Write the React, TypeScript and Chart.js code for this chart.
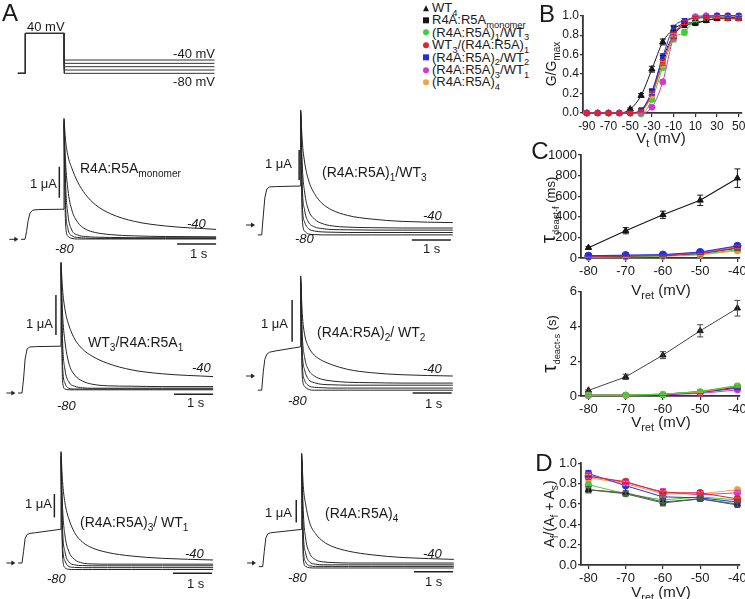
import React, { useEffect, useRef } from 'react';
import { Chart, registerables } from 'chart.js';
Chart.register(...registerables);

const FONT = '"Liberation Sans", Arial, Helvetica, sans-serif';
const INK = '#1a1a1a';

// ---------- Panel A: voltage protocol ----------
const PROTO_T = [-0.19, 0, 0, 1, 1, 4.85];
const HOLD_MV = -80;
const STEP_MV = 40;
const RET_MV = [-40, -50, -60, -70, -80];

// ---------- Panel A: current traces (uA), tails at -40..-80 mV ----------
const ACT_T = [-0.1, 0, 0.04, 0.08, 0.13, 0.2, 0.35, 1.0];
const TAIL_T = [0, 0.04, 0.1, 0.2, 0.35, 0.55, 0.8, 1.2, 1.8, 2.6, 3.9];

const monoAct = [0, 0, 0.25, 0.6, 0.85, 0.94, 0.96, 0.97];
const monoTails = [
  [3.9, 3.2, 2.7, 2.3, 1.85, 1.45, 1.12, 0.82, 0.58, 0.43, 0.32],
  [3.85, 2.5, 1.6, 0.95, 0.55, 0.33, 0.22, 0.15, 0.11, 0.09, 0.08],
  [3.8, 1.8, 0.8, 0.3, 0.14, 0.09, 0.07, 0.06, 0.05, 0.05, 0.05],
  [3.75, 1.1, 0.35, 0.12, 0.06, 0.04, 0.03, 0.03, 0.03, 0.03, 0.03],
  [3.7, 0.5, 0.1, 0.03, 0.01, 0.01, 0.01, 0.01, 0.01, 0.01, 0.01],
];

const m1w3Act = [-0.33, -0.33, 0.3, 0.9, 1.2, 1.27, 1.28, 1.3];
const m1w3Tails = [
  [3.83, 2.8, 2.1, 1.5, 1.05, 0.72, 0.5, 0.32, 0.2, 0.12, 0.08],
  [3.8, 2.0, 1.1, 0.5, 0.2, 0.05, -0.03, -0.07, -0.09, -0.1, -0.1],
  [3.75, 1.3, 0.5, 0.1, -0.06, -0.12, -0.15, -0.16, -0.17, -0.17, -0.17],
  [3.7, 0.7, 0.1, -0.12, -0.2, -0.23, -0.24, -0.25, -0.25, -0.25, -0.25],
  [3.65, 0.2, -0.2, -0.3, -0.32, -0.33, -0.33, -0.33, -0.33, -0.33, -0.33],
];

const w3m1Act = [0, 0, 0.35, 0.85, 1.1, 1.15, 1.16, 1.17];
const w3m1Tails = [
  [3.27, 2.6, 2.1, 1.7, 1.35, 1.1, 0.92, 0.74, 0.58, 0.48, 0.41],
  [3.25, 2.0, 1.3, 0.75, 0.45, 0.3, 0.22, 0.18, 0.17, 0.16, 0.16],
  [3.2, 1.3, 0.6, 0.28, 0.17, 0.13, 0.12, 0.12, 0.12, 0.12, 0.12],
  [3.15, 0.7, 0.25, 0.12, 0.1, 0.1, 0.1, 0.1, 0.1, 0.1, 0.1],
  [3.1, 0.3, 0.1, 0.08, 0.08, 0.08, 0.08, 0.08, 0.08, 0.08, 0.08],
];

const m2w2Act = [-0.34, -0.34, 0.1, 0.4, 0.52, 0.57, 0.6, 0.7];
const m2w2Tails = [
  [2.4, 1.5, 1.0, 0.7, 0.5, 0.37, 0.27, 0.16, 0.08, 0.03, 0.0],
  [2.35, 1.0, 0.45, 0.15, 0.0, -0.08, -0.12, -0.15, -0.16, -0.17, -0.17],
  [2.3, 0.6, 0.15, -0.08, -0.16, -0.2, -0.21, -0.22, -0.22, -0.22, -0.22],
  [2.25, 0.3, -0.1, -0.23, -0.27, -0.28, -0.29, -0.29, -0.29, -0.29, -0.29],
  [2.2, 0.0, -0.25, -0.32, -0.34, -0.34, -0.34, -0.34, -0.34, -0.34, -0.34],
];

const m3w1Act = [0, 0, 0.5, 1.05, 1.22, 1.27, 1.3, 1.45];
const m3w1Tails = [
  [4.78, 3.5, 2.6, 1.9, 1.3, 0.9, 0.65, 0.45, 0.3, 0.2, 0.13],
  [4.7, 2.4, 1.2, 0.5, 0.15, 0.0, -0.04, -0.05, -0.05, -0.05, -0.05],
  [4.6, 1.5, 0.5, 0.05, -0.08, -0.11, -0.12, -0.12, -0.12, -0.12, -0.12],
  [4.5, 0.8, 0.1, -0.15, -0.19, -0.2, -0.2, -0.2, -0.2, -0.2, -0.2],
  [4.4, 0.3, -0.2, -0.27, -0.28, -0.28, -0.28, -0.28, -0.28, -0.28, -0.28],
];

const m4Act = [-0.16, -0.16, 0.5, 1.1, 1.28, 1.33, 1.36, 1.48];
const m4Tails = [
  [4.83, 3.4, 2.6, 1.8, 1.3, 0.95, 0.72, 0.52, 0.36, 0.24, 0.16],
  [4.75, 2.3, 1.1, 0.45, 0.15, 0.05, 0.02, 0.0, 0.0, 0.0, 0.0],
  [4.65, 1.4, 0.45, 0.05, -0.05, -0.08, -0.08, -0.08, -0.08, -0.08, -0.08],
  [4.55, 0.7, 0.05, -0.12, -0.15, -0.15, -0.15, -0.15, -0.15, -0.15, -0.15],
  [4.45, 0.2, -0.15, -0.21, -0.22, -0.22, -0.22, -0.22, -0.22, -0.22, -0.22],
];

// ---------- Panel B: G/Gmax vs Vt ----------
const V_T = [-90, -80, -70, -60, -50, -40, -30, -20, -10, 0, 10, 20, 30, 40, 50];
const V_T_TICKS = [-90, -70, -50, -30, -10, 10, 30, 50];
const G_TICKS = [0, 0.2, 0.4, 0.6, 0.8, 1.0];
const gWT4 = [0, 0, 0, 0, 0.04, 0.18, 0.45, 0.73, 0.86, 0.92, 0.93, 0.95, 0.97, 0.97, 0.97];
const gWT4Err = [0, 0, 0, 0, 0.01, 0.02, 0.03, 0.03, 0.03, 0.02, 0.02, 0.02, 0.01, 0.01, 0.01];
const gMono = [0, 0, 0, 0, 0, 0.03, 0.22, 0.56, 0.8, 0.9, 0.92, 0.95, 0.97, 0.98, 0.98];
const gMonoErr = [0, 0, 0, 0, 0, 0.01, 0.02, 0.03, 0.03, 0.02, 0.02, 0.02, 0.01, 0.01, 0.01];
const gM1W3 = [0, 0, 0, 0, 0, -0.01, 0.14, 0.47, 0.76, 0.83, 0.96, 0.98, 0.99, 0.99, 0.99];
const gM1W3Err = [0, 0, 0, 0, 0, 0.01, 0.02, 0.03, 0.03, 0.03, 0.02, 0.01, 0.01, 0.01, 0.01];
const gW3M1 = [0, 0, 0, 0, 0, 0.02, 0.2, 0.52, 0.8, 0.93, 0.98, 0.98, 0.98, 0.97, 0.97];
const gW3M1Err = [0, 0, 0, 0, 0, 0.01, 0.02, 0.03, 0.03, 0.02, 0.01, 0.01, 0.01, 0.01, 0.01];
const gM2W2 = [0, 0, 0, 0, 0, 0.03, 0.22, 0.58, 0.88, 0.95, 0.98, 0.99, 1.0, 1.0, 1.0];
const gM2W2Err = [0, 0, 0, 0, 0, 0.01, 0.03, 0.03, 0.02, 0.02, 0.01, 0.01, 0.01, 0.01, 0.01];
const gM3W1 = [0, 0, 0, 0, 0, 0, 0.06, 0.32, 0.78, 0.93, 0.99, 1.0, 1.0, 1.0, 1.0];
const gM3W1Err = [0, 0, 0, 0, 0, 0.01, 0.01, 0.02, 0.03, 0.02, 0.01, 0.01, 0.01, 0.01, 0.01];
const gM4 = [0, 0, 0, 0, 0, 0.02, 0.18, 0.5, 0.8, 0.93, 0.98, 0.99, 1.0, 1.0, 0.99];
const gM4Err = [0, 0, 0, 0, 0, 0.01, 0.02, 0.03, 0.02, 0.02, 0.01, 0.01, 0.01, 0.01, 0.01];

// ---------- Panel C: deactivation time constants ----------
const V_RET = [-80, -70, -60, -50, -40];
const TAUF_TICKS = [0, 200, 400, 600, 800, 1000];
const TAUS_TICKS = [0, 2, 4, 6];
const fWT4 = [100, 265, 420, 560, 775];
const fWT4Err = [10, 30, 35, 50, 90];
const fMono = [15, 20, 25, 45, 95];
const fM1W3 = [10, 15, 20, 35, 80];
const fW3M1 = [15, 20, 25, 45, 100];
const fM2W2 = [22, 28, 33, 58, 118];
const fM3W1 = [20, 25, 30, 52, 112];
const fM4 = [8, 10, 15, 30, 70];
const fSmallErr = [3, 3, 5, 8, 15];
const sWT4 = [0.32, 1.1, 2.35, 3.75, 5.05];
const sWT4Err = [0.05, 0.15, 0.2, 0.35, 0.45];
const sMono = [0.05, 0.06, 0.1, 0.25, 0.5];
const sM1W3 = [0.05, 0.06, 0.1, 0.27, 0.6];
const sW3M1 = [0.04, 0.05, 0.1, 0.22, 0.55];
const sM2W2 = [0.03, 0.04, 0.08, 0.2, 0.45];
const sM3W1 = [0.03, 0.04, 0.07, 0.15, 0.35];
const sM4 = [0.04, 0.05, 0.1, 0.24, 0.58];
const sSmallErr = [0.01, 0.01, 0.02, 0.03, 0.06];

// ---------- Panel D: Af/(Af+As) ----------
const AF_TICKS = [0, 0.2, 0.4, 0.6, 0.8, 1.0];
const aWT4 = [0.74, 0.71, 0.62, 0.65, 0.6];
const aMono = [0.74, 0.7, 0.61, 0.65, 0.59];
const aM1W3 = [0.79, 0.7, 0.64, 0.67, 0.64];
const aW3M1 = [0.87, 0.82, 0.71, 0.71, 0.65];
const aM2W2 = [0.9, 0.78, 0.67, 0.66, 0.62];
const aM3W1 = [0.88, 0.81, 0.72, 0.69, 0.71];
const aM4 = [0.86, 0.8, 0.7, 0.7, 0.74];
const aErr = [0.03, 0.02, 0.03, 0.02, 0.02];

// ---------- styles ----------
const C_BLACK = '#161616';
const C_GREEN = '#3fcf3a';
const C_RED = '#e3232b';
const C_BLUE = '#2531d8';
const C_MAG = '#d03ad0';
const C_ORANGE = '#f3a246';

const BASE: any = {
  animation: false,
  responsive: false,
  events: [],
  plugins: { legend: { display: false }, tooltip: { enabled: false } },
};

type Box = { l: number; t: number; w: number; h: number };

function CanvasChart({ box, make }: { box: Box; make: () => any }) {
  const ref = useRef<HTMLCanvasElement>(null);
  useEffect(() => {
    const c = new Chart(ref.current as HTMLCanvasElement, make());
    return () => c.destroy();
  }, []);
  return (
    <canvas
      ref={ref}
      width={box.w}
      height={box.h}
      style={{ position: 'absolute', left: box.l, top: box.t, width: box.w, height: box.h }}
    />
  );
}

function protocolChart(box: Box, x0: number, pps: number, y0: number, ppm: number) {
  const datasets = RET_MV.map((r) => {
    const v = [HOLD_MV, HOLD_MV, STEP_MV, STEP_MV, r, r];
    return {
      data: PROTO_T.map((t, i) => ({ x: t, y: v[i] })),
      borderColor: '#333',
      borderWidth: 1,
      pointRadius: 0,
      tension: 0,
      clip: false,
    };
  });
  return {
    type: 'line',
    data: { datasets },
    options: {
      ...BASE,
      layout: { padding: 0 },
      scales: {
        x: { type: 'linear', display: false, min: (box.l - x0) / pps, max: (box.l + box.w - x0) / pps },
        y: { type: 'linear', display: false, min: (y0 - box.t - box.h) / ppm, max: (y0 - box.t) / ppm },
      },
    },
  };
}

type TraceSpec = {
  box: Box; x0: number; pps: number; y0: number; ppu: number;
  act: number[]; tails: number[][]; uaBar: [number, number]; sBar: [number, number];
};

function traceChart(s: TraceSpec) {
  const peak = Math.max(...s.tails.map((a) => a[0]));
  const actData = ACT_T.map((t, i) => ({ x: t, y: s.act[i] }));
  actData.push({ x: 1, y: peak });
  const line = { borderColor: '#252525', borderWidth: 1, pointRadius: 0, clip: false, fill: false };
  const datasets: any[] = [{ ...line, data: actData, tension: 0 }];
  s.tails.forEach((a) => {
    datasets.push({
      ...line,
      data: TAIL_T.map((t, i) => ({ x: 1 + t, y: a[i] })),
      cubicInterpolationMode: 'monotone',
    });
  });
  const decor = {
    id: 'decor',
    afterDatasetsDraw(chart: any) {
      const { ctx } = chart;
      const x = chart.scales.x;
      const y = chart.scales.y;
      ctx.save();
      ctx.strokeStyle = '#222';
      ctx.fillStyle = '#222';
      ctx.lineWidth = 1.5;
      const bx = x.getPixelForValue(s.uaBar[0]);
      ctx.beginPath();
      ctx.moveTo(bx, y.getPixelForValue(s.uaBar[1]));
      ctx.lineTo(bx, y.getPixelForValue(s.uaBar[1] + 1));
      ctx.stroke();
      const sy = y.getPixelForValue(s.sBar[1]);
      ctx.beginPath();
      ctx.moveTo(x.getPixelForValue(s.sBar[0]), sy);
      ctx.lineTo(x.getPixelForValue(s.sBar[0] + 1), sy);
      ctx.stroke();
      const ay = y.getPixelForValue(0);
      const a1 = x.getPixelForValue(-0.4);
      const a2 = x.getPixelForValue(-0.17);
      ctx.lineWidth = 1;
      ctx.beginPath();
      ctx.moveTo(a1, ay);
      ctx.lineTo(a2 - 3, ay);
      ctx.stroke();
      ctx.beginPath();
      ctx.moveTo(a2, ay);
      ctx.lineTo(a2 - 4, ay - 2.5);
      ctx.lineTo(a2 - 4, ay + 2.5);
      ctx.closePath();
      ctx.fill();
      ctx.restore();
    },
  };
  return {
    type: 'line',
    data: { datasets },
    options: {
      ...BASE,
      layout: { padding: 0 },
      scales: {
        x: { type: 'linear', display: false, min: (s.box.l - s.x0) / s.pps, max: (s.box.l + s.box.w - s.x0) / s.pps },
        y: { type: 'linear', display: false, min: (s.y0 - s.box.t - s.box.h) / s.ppu, max: (s.y0 - s.box.t) / s.ppu },
      },
    },
    plugins: [decor],
  };
}

const errorBars = {
  id: 'errorBars',
  afterDatasetsDraw(chart: any) {
    const { ctx } = chart;
    const ys = chart.scales.y;
    const idx = chart.data.datasets.map((_: any, i: number) => i);
    idx.sort((a: number, b: number) => (chart.data.datasets[b].order || 0) - (chart.data.datasets[a].order || 0));
    idx.forEach((i: number) => {
      const ds = chart.data.datasets[i];
      if (!ds.errors) return;
      const meta = chart.getDatasetMeta(i);
      ctx.save();
      ctx.strokeStyle = ds.borderColor;
      ctx.lineWidth = 1;
      meta.data.forEach((pt: any, j: number) => {
        const e = ds.errors[j];
        if (!e) return;
        const v = ds.data[j].y;
        const y1 = ys.getPixelForValue(v + e);
        const y2 = ys.getPixelForValue(v - e);
        ctx.beginPath();
        ctx.moveTo(pt.x, y1);
        ctx.lineTo(pt.x, y2);
        ctx.moveTo(pt.x - 3, y1);
        ctx.lineTo(pt.x + 3, y1);
        ctx.moveTo(pt.x - 3, y2);
        ctx.lineTo(pt.x + 3, y2);
        ctx.stroke();
      });
      ctx.restore();
    });
  },
};

function series(xs: number[], ys: number[], errs: number[] | null, color: string, pointStyle: string, r: number, extra: any = {}) {
  return {
    data: xs.map((x, i) => ({ x, y: ys[i] })),
    errors: errs,
    borderColor: color,
    backgroundColor: color,
    pointBackgroundColor: color,
    pointBorderColor: color,
    pointBorderWidth: 1,
    pointStyle,
    pointRadius: r,
    borderWidth: 1,
    clip: false,
    ...extra,
  };
}

function ordered(list: any[]) {
  const n = list.length;
  return list.map((d, i) => ({ ...d, order: n - i }));
}

type AxisSpec = {
  box: Box; plot: { l: number; t: number; r: number; b: number };
  xMin: number; xMax: number; xTicks: number[];
  yMin: number; yMax: number; yTicks: number[]; yDec: number;
  fontSize: number; datasets: any[];
};

function axisChart(s: AxisSpec) {
  const yW = s.plot.l - s.box.l;
  const xH = s.box.t + s.box.h - s.plot.b;
  const padTop = s.plot.t - s.box.t;
  const padRight = s.box.l + s.box.w - s.plot.r;
  const tickStyle = { color: INK, font: { family: FONT, size: s.fontSize } };
  const grid = { display: true, drawOnChartArea: false, drawTicks: true, tickLength: 4, color: '#333', lineWidth: 1.2 };
  const border = { display: true, color: '#333', width: 1.8 };
  return {
    type: 'line',
    data: { datasets: s.datasets },
    options: {
      ...BASE,
      layout: { padding: { top: padTop, right: padRight, left: 0, bottom: 0 } },
      scales: {
        x: {
          type: 'linear', min: s.xMin, max: s.xMax,
          afterBuildTicks: (a: any) => { a.ticks = s.xTicks.map((v) => ({ value: v })); },
          afterFit: (a: any) => { a.height = xH; },
          ticks: { ...tickStyle, padding: 2, maxRotation: 0, autoSkip: false, callback: (v: any) => String(v) },
          grid, border,
        },
        y: {
          type: 'linear', min: s.yMin, max: s.yMax,
          afterBuildTicks: (a: any) => { a.ticks = s.yTicks.map((v) => ({ value: v })); },
          afterFit: (a: any) => { a.width = yW; },
          ticks: { ...tickStyle, padding: 1, autoSkip: false, callback: (v: any) => Number(v).toFixed(s.yDec) },
          grid: { ...grid, tickLength: 3 }, border,
        },
      },
    },
    plugins: [errorBars],
  };
}

const S = ({ children }: any) => (
  <sub style={{ fontSize: '72%', verticalAlign: 'baseline', position: 'relative', top: '0.38em' }}>{children}</sub>
);

function Txt({ x, y, size = 13, align = 'left', italic = false, rot = false, children }: any) {
  const tx = align === 'left' ? '0%' : align === 'center' ? '-50%' : '-100%';
  return (
    <div
      style={{
        position: 'absolute', left: x, top: y, whiteSpace: 'nowrap', lineHeight: 1,
        fontSize: size, fontStyle: italic ? 'italic' : 'normal', color: INK,
        transform: rot ? 'translate(-50%, -50%) rotate(-90deg)' : `translate(${tx}, -50%)`,
      }}
    >
      {children}
    </div>
  );
}

function Marker({ kind, color }: any) {
  if (kind === 'tri')
    return <span style={{ display: 'inline-block', width: 0, height: 0, borderLeft: '3.5px solid transparent', borderRight: '3.5px solid transparent', borderBottom: `6px solid ${color}` }} />;
  if (kind === 'sq') return <span style={{ display: 'inline-block', width: 6, height: 6, background: color }} />;
  return <span style={{ display: 'inline-block', width: 6, height: 6, borderRadius: 3, background: color }} />;
}

const LEGEND = [
  { kind: 'tri', color: C_BLACK, label: <>WT<S>4</S></> },
  { kind: 'sq', color: C_BLACK, label: <>R4A:R5A<S>monomer</S></> },
  { kind: 'dot', color: C_GREEN, label: <>(R4A:R5A)<S>1</S>/WT<S>3</S></> },
  { kind: 'dot', color: C_RED, label: <>WT<S>3</S>/(R4A:R5A)<S>1</S></> },
  { kind: 'sq', color: C_BLUE, label: <>(R4A:R5A)<S>2</S>/WT<S>2</S></> },
  { kind: 'dot', color: C_MAG, label: <>(R4A:R5A)<S>3</S>/WT<S>1</S></> },
  { kind: 'dot', color: C_ORANGE, label: <>(R4A:R5A)<S>4</S></> },
];

const TRACES: TraceSpec[] = [
  { box: { l: 5, t: 100, w: 225, h: 162 }, x0: 25, pps: 39, y0: 239.3, ppu: 31, act: monoAct, tails: monoTails, uaBar: [0.88, 1.34], sBar: [3.9, -0.15] },
  { box: { l: 240, t: 100, w: 225, h: 162 }, x0: 261.7, pps: 39, y0: 225, ppu: 30, act: m1w3Act, tails: m1w3Tails, uaBar: [0.96, 1.5], sBar: [3.85, -0.5] },
  { box: { l: 5, t: 255, w: 225, h: 165 }, x0: 22, pps: 39, y0: 393, ppu: 40, act: w3m1Act, tails: w3m1Tails, uaBar: [0.87, 1.45], sBar: [3.9, -0.03] },
  { box: { l: 240, t: 262, w: 225, h: 158 }, x0: 261.7, pps: 39, y0: 376, ppu: 41.7, act: m2w2Act, tails: m2w2Tails, uaBar: [0.78, 0.82], sBar: [3.87, -0.41] },
  { box: { l: 5, t: 440, w: 225, h: 155 }, x0: 22, pps: 39, y0: 563, ppu: 23.3, act: m3w1Act, tails: m3w1Tails, uaBar: [0.83, 1.96], sBar: [3.87, -0.44] },
  { box: { l: 240, t: 440, w: 225, h: 155 }, x0: 262.7, pps: 39, y0: 563, ppu: 22.7, act: m4Act, tails: m4Tails, uaBar: [0.86, 1.78], sBar: [3.88, -0.38] },
];

const TRACE_TEXT = [
  { ua: [57, 182.7], lab: [80, 168], labText: <>R4A:R5A<S>monomer</S></>, t40: [187, 223], t80: [55, 248.3], s: [190, 253] },
  { ua: [292, 163], lab: [322, 172], labText: <>(R4A:R5A)<S>1</S>/WT<S>3</S></>, t40: [423, 215], t80: [295, 238], s: [423, 248] },
  { ua: [53, 323], lab: [88, 341.7], labText: <>WT<S>3</S>/R4A:R5A<S>1</S></>, t40: [192, 367], t80: [57, 405], s: [187, 401.7] },
  { ua: [288, 323], lab: [317, 331.7], labText: <>(R4A:R5A)<S>2</S>/ WT<S>2</S></>, t40: [423, 367.7], t80: [288, 400], s: [425, 402.7] },
  { ua: [52, 503.3], lab: [80, 521.7], labText: <>(R4A:R5A)<S>3</S>/ WT<S>1</S></>, t40: [185, 553.3], t80: [47, 578.3], s: [187, 583.3] },
  { ua: [292, 511.7], lab: [325, 513.3], labText: <>(R4A:R5A)<S>4</S></>, t40: [423, 553.3], t80: [288, 576.7], s: [425, 581] },
];

const makeB = () =>
  axisChart({
    box: { l: 540, t: 0, w: 220, h: 137 },
    plot: { l: 583, t: 15.7, r: 742, b: 113 },
    xMin: -93.5, xMax: 53, xTicks: V_T_TICKS,
    yMin: 0, yMax: 1, yTicks: G_TICKS, yDec: 1, fontSize: 12,
    datasets: ordered([
      series(V_T, gWT4, gWT4Err, C_BLACK, 'triangle', 3.6, { cubicInterpolationMode: 'monotone' }),
      series(V_T, gMono, gMonoErr, C_BLACK, 'rect', 3, { cubicInterpolationMode: 'monotone' }),
      series(V_T, gM1W3, gM1W3Err, C_GREEN, 'circle', 3, { cubicInterpolationMode: 'monotone' }),
      series(V_T, gM4, gM4Err, C_ORANGE, 'circle', 3, { cubicInterpolationMode: 'monotone' }),
      series(V_T, gM3W1, gM3W1Err, C_MAG, 'circle', 3, { cubicInterpolationMode: 'monotone' }),
      series(V_T, gM2W2, gM2W2Err, C_BLUE, 'rect', 3, { cubicInterpolationMode: 'monotone' }),
      series(V_T, gW3M1, gW3M1Err, C_RED, 'rect', 3, { cubicInterpolationMode: 'monotone' }),
    ]),
  });

const makeC1 = () =>
  axisChart({
    box: { l: 540, t: 140, w: 220, h: 138 },
    plot: { l: 581, t: 155, r: 740, b: 258 },
    xMin: -82, xMax: -39.3, xTicks: V_RET,
    yMin: 0, yMax: 1000, yTicks: TAUF_TICKS, yDec: 0, fontSize: 13,
    datasets: ordered([
      series(V_RET, fWT4, fWT4Err, C_BLACK, 'triangle', 3.6, { borderWidth: 1.2 }),
      series(V_RET, fM4, fSmallErr, C_ORANGE, 'circle', 3.2),
      series(V_RET, fM1W3, fSmallErr, C_GREEN, 'circle', 3.2),
      series(V_RET, fMono, fSmallErr, C_BLACK, 'rect', 3),
      series(V_RET, fW3M1, fSmallErr, C_RED, 'circle', 3.2),
      series(V_RET, fM3W1, fSmallErr, C_MAG, 'circle', 3.2),
      series(V_RET, fM2W2, fSmallErr, C_BLUE, 'circle', 3.6),
    ]),
  });

const makeC2 = () =>
  axisChart({
    box: { l: 540, t: 280, w: 220, h: 136 },
    plot: { l: 581, t: 291.7, r: 740, b: 396 },
    xMin: -82, xMax: -39.3, xTicks: V_RET,
    yMin: 0, yMax: 6, yTicks: TAUS_TICKS, yDec: 0, fontSize: 13,
    datasets: ordered([
      series(V_RET, sWT4, sWT4Err, C_BLACK, 'triangle', 3.6, { borderColor: '#444' }),
      series(V_RET, sMono, sSmallErr, C_BLACK, 'rect', 3),
      series(V_RET, sM3W1, sSmallErr, C_MAG, 'circle', 3),
      series(V_RET, sM2W2, sSmallErr, C_BLUE, 'circle', 3),
      series(V_RET, sW3M1, sSmallErr, C_RED, 'circle', 3),
      series(V_RET, sM4, sSmallErr, C_ORANGE, 'circle', 3),
      series(V_RET, sM1W3, sSmallErr, C_GREEN, 'rect', 3.2),
    ]),
  });

const makeD = () =>
  axisChart({
    box: { l: 540, t: 450, w: 220, h: 135 },
    plot: { l: 581, t: 463.3, r: 740, b: 565 },
    xMin: -82, xMax: -39.3, xTicks: V_RET,
    yMin: 0, yMax: 1, yTicks: AF_TICKS, yDec: 1, fontSize: 13,
    datasets: ordered([
      series(V_RET, aM4, aErr, C_ORANGE, 'circle', 3.2),
      series(V_RET, aM1W3, aErr, C_GREEN, 'circle', 3.2),
      series(V_RET, aM2W2, aErr, C_BLUE, 'circle', 3.2),
      series(V_RET, aM3W1, aErr, C_MAG, 'circle', 3.2),
      series(V_RET, aW3M1, aErr, C_RED, 'circle', 3.4),
      series(V_RET, aWT4, aErr, C_BLACK, 'triangle', 3.6, { borderColor: '#555' }),
      series(V_RET, aMono, aErr, C_BLACK, 'rect', 3.2, { borderColor: '#555' }),
    ]),
  });

export default function App() {
  const protoBox = { l: 10, t: 25, w: 212, h: 60 };
  return (
    <div
      style={{
        position: 'fixed', left: 0, top: 0, width: 745, height: 599, overflow: 'hidden',
        background: '#fff', fontFamily: FONT, color: INK,
      }}
    >
      <CanvasChart box={protoBox} make={() => protocolChart(protoBox, 25.3, 39, 46.7, 0.333)} />
      {TRACES.map((t, i) => (
        <CanvasChart key={i} box={t.box} make={() => traceChart(t)} />
      ))}
      <CanvasChart box={{ l: 540, t: 0, w: 220, h: 137 }} make={makeB} />
      <CanvasChart box={{ l: 540, t: 140, w: 220, h: 138 }} make={makeC1} />
      <CanvasChart box={{ l: 540, t: 280, w: 220, h: 136 }} make={makeC2} />
      <CanvasChart box={{ l: 540, t: 450, w: 220, h: 135 }} make={makeD} />

      {/* panel letters */}
      <Txt x={2} y={13} size={24}>A</Txt>
      <Txt x={547} y={14} size={24} align="center">B</Txt>
      <Txt x={540} y={151} size={24} align="center">C</Txt>
      <Txt x={544} y={463} size={24} align="center">D</Txt>

      {/* protocol labels */}
      <Txt x={27} y={26} size={13}>40 mV</Txt>
      <Txt x={215} y={53} size={13} align="right">-40 mV</Txt>
      <Txt x={215} y={81} size={13} align="right">-80 mV</Txt>

      {/* trace labels */}
      {TRACE_TEXT.map((p, i) => (
        <React.Fragment key={i}>
          <Txt x={p.ua[0]} y={p.ua[1]} size={13} align="right">1 μA</Txt>
          <Txt x={p.lab[0]} y={p.lab[1]} size={14}>{p.labText}</Txt>
          <Txt x={p.t40[0]} y={p.t40[1]} size={13} italic>-40</Txt>
          <Txt x={p.t80[0]} y={p.t80[1]} size={13} italic>-80</Txt>
          <Txt x={p.s[0]} y={p.s[1]} size={13}>1 s</Txt>
        </React.Fragment>
      ))}

      {/* legend */}
      {LEGEND.map((e, i) => (
        <div key={i} style={{ position: 'absolute', left: 421, top: 8 + i * 12.4, transform: 'translateY(-50%)', display: 'flex', alignItems: 'center', whiteSpace: 'nowrap', fontSize: 13, lineHeight: 1 }}>
          <span style={{ width: 9, display: 'inline-flex', justifyContent: 'center' }}>
            <Marker kind={e.kind} color={e.color} />
          </span>
          <span style={{ marginLeft: 2 }}>{e.label}</span>
        </div>
      ))}

      {/* axis titles */}
      <Txt x={551} y={64} size={14} rot>G/G<S>max</S></Txt>
      <Txt x={661} y={137} size={15} align="center">V<S>t</S> (mV)</Txt>
      <Txt x={547} y={210} size={13} rot>
        <span style={{ fontSize: 21 }}>τ</span><S>deact-f</S> (ms)
      </Txt>
      <Txt x={661} y={289} size={15} align="center">V<S>ret</S> (mV)</Txt>
      <Txt x={548} y={344} size={13} rot>
        <span style={{ fontSize: 21 }}>τ</span><S>deact-s</S> (s)
      </Txt>
      <Txt x={661} y={421} size={15} align="center">V<S>ret</S> (mV)</Txt>
      <Txt x={549} y={514} size={14} rot>A<S>f</S>/(A<S>f</S> + A<S>s</S>)</Txt>
      <Txt x={661} y={591} size={15} align="center">V<S>ret</S> (mV)</Txt>
    </div>
  );
}
